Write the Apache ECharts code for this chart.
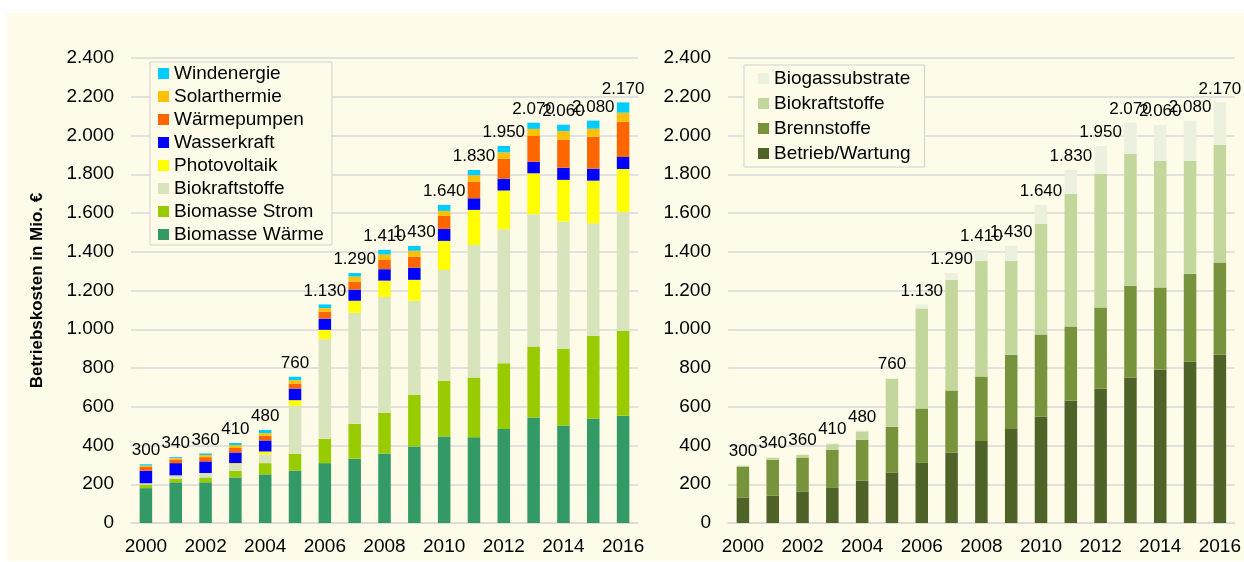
<!DOCTYPE html>
<html>
<head>
<meta charset="utf-8">
<script src="https://cdn.jsdelivr.net/npm/echarts@6/dist/echarts.min.js"></script>
<style>
  html, body { margin: 0; padding: 0; background: #ffffff; }
  #chart { width: 1244px; height: 562px; }
</style>
</head>
<body>
<div id="chart"></div>
<script>
'use strict';

var years = ['2000','2001','2002','2003','2004','2005','2006','2007','2008','2009','2010','2011','2012','2013','2014','2015','2016'];
var totals = [300,340,360,410,480,760,1130,1290,1410,1430,1640,1830,1950,2070,2060,2080,2170];

// left chart: by technology
var biomasseWaerme = [180,210,210,235,251,271,309,332,359,395,447,442,485,545,503,540,553];
var biomasseStrom = [18,18,25,35,58,86,126,180,210,267,287,309,340,366,396,426,439];
var biokraftLeft = [7,18,23,34,45,248,514,573,597,485,572,684,691,683,657,581,614];
var photovoltaik = [0,0,0,5,15,29,48,62,85,108,150,181,200,211,215,220,221];
var wasserkraft = [65,63,60,55,57,60,58,58,59,63,62,60,61,60,63,62,62];
var waermepumpen = [19,19,22,23,24,26,36,41,48,57,67,86,103,133,145,165,182];
var solarthermie = [7,7,11,15,14,17,18,26,28,30,26,33,33,36,44,41,47];
var windenergie = [7,5,8,11,16,18,19,18,24,25,31,27,33,32,33,42,53];

// right chart: by cost type
var betrieb = [132,142,163,184,218,261,313,364,423,485,550,632,693,751,791,834,870];
var brennstoffe = [157,185,175,194,212,236,278,320,333,383,423,382,419,473,424,453,474];
var biokraftRight = [7,10,14,29,43,247,516,571,597,485,571,684,690,681,655,582,607];
var biogas = [3,3,5,6,5,4,21,35,57,77,98,124,144,161,184,208,220];

var font = 'Liberation Sans, Arial, sans-serif';

function fmt(v){
    return String(v).replace(/\B(?=(\d{3})+(?!\d))/g, '.');
}

var chart = echarts.init(document.getElementById('chart'));

function xAxis(idx){
    return {
        type: 'category',
        gridIndex: idx,
        data: years,
        axisLine: { lineStyle: { color: '#d9d9d9', width: 1.5 } },
        axisTick: { show: false },
        axisLabel: { interval: 1, color: '#000', fontSize: 19, fontFamily: font, margin: 14 }
    };
}

function yAxis(idx){
    var ax = {
        type: 'value',
        gridIndex: idx,
        min: 0,
        max: 2400,
        interval: 200,
        axisLine: { show: false },
        axisTick: { show: false },
        splitLine: { lineStyle: { color: '#d9d9d9', width: 1.5 } },
        axisLabel: { color: '#000', fontSize: 19, fontFamily: font, margin: 17, formatter: fmt }
    };
    if(idx == 0){
        ax.name = 'Betriebskosten in Mio. €';
        ax.nameLocation = 'middle';
        ax.nameGap = 85;
        ax.nameTextStyle = { color: '#000', fontSize: 17, fontWeight: 'bold', fontFamily: font };
    }
    return ax;
}

function bar(name, data, color, idx, stack, withLabel){
    var s = {
        name: name,
        type: 'bar',
        stack: stack,
        xAxisIndex: idx,
        yAxisIndex: idx,
        data: data,
        barWidth: '42%',
        itemStyle: { color: color },
        emphasis: { disabled: true }
    };
    if(withLabel){
        s.label = {
            show: true,
            position: 'top',
            distance: 5,
            color: '#000',
            fontSize: 17,
            fontFamily: font,
            formatter: function(p){ return fmt(totals[p.dataIndex]); }
        };
    }
    return s;
}

var option = {
    animation: false,
    backgroundColor: '#ffffff',
    graphic: [{
        type: 'rect',
        z: -10,
        silent: true,
        shape: { x: 7, y: 13, width: 1237, height: 548 },
        style: { fill: '#fefbe9' }
    }],
    grid: [
        { left: 131, right: 606, top: 58, bottom: 39 },
        { left: 728, right: 9, top: 58, bottom: 39 }
    ],
    xAxis: [xAxis(0), xAxis(1)],
    yAxis: [yAxis(0), yAxis(1)],
    legend: [{
        orient: 'vertical',
        left: 150,
        top: 62,
        padding: [2, 8, 1, 8],
        itemWidth: 11,
        itemHeight: 11,
        itemGap: 4,
        icon: 'rect',
        backgroundColor: '#fefbe9',
        borderColor: '#d0d0d0',
        borderWidth: 1,
        textStyle: { color: '#000', fontSize: 19, fontFamily: font, lineHeight: 19 },
        data: ['Windenergie','Solarthermie','Wärmepumpen','Wasserkraft','Photovoltaik','Biokraftstoffe','Biomasse Strom','Biomasse Wärme']
    }, {
        orient: 'vertical',
        left: 744,
        top: 65,
        padding: [4, 14, 4, 14],
        itemWidth: 11,
        itemHeight: 11,
        itemGap: 6,
        icon: 'rect',
        backgroundColor: '#fefbe9',
        borderColor: '#d0d0d0',
        borderWidth: 1,
        textStyle: { color: '#000', fontSize: 19, fontFamily: font, lineHeight: 19 },
        data: ['Biogassubstrate','Biokraftstoffe ','Brennstoffe','Betrieb/Wartung']
    }],
    series: [
        bar('Biomasse Wärme', biomasseWaerme, '#339966', 0, 'a'),
        bar('Biomasse Strom', biomasseStrom, '#99cc00', 0, 'a'),
        bar('Biokraftstoffe', biokraftLeft, '#d8e4bc', 0, 'a'),
        bar('Photovoltaik', photovoltaik, '#ffff00', 0, 'a'),
        bar('Wasserkraft', wasserkraft, '#0000ff', 0, 'a'),
        bar('Wärmepumpen', waermepumpen, '#ff6600', 0, 'a'),
        bar('Solarthermie', solarthermie, '#ffc000', 0, 'a'),
        bar('Windenergie', windenergie, '#00ccff', 0, 'a', true),

        bar('Betrieb/Wartung', betrieb, '#4f6228', 1, 'b'),
        bar('Brennstoffe', brennstoffe, '#77933c', 1, 'b'),
        bar('Biokraftstoffe ', biokraftRight, '#c3d69b', 1, 'b'),
        bar('Biogassubstrate', biogas, '#ebf1de', 1, 'b', true)
    ]
};

chart.setOption(option);
</script>
</body>
</html>
